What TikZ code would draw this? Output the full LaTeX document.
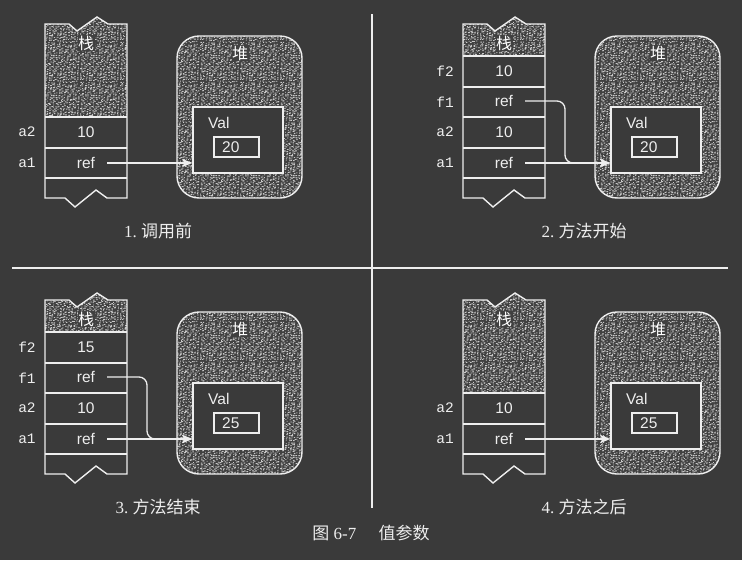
\documentclass[tikz,border=0pt]{standalone}
\usepackage{fontspec}
\setmainfont{Liberation Serif}
\newfontfamily\cjk{Noto Sans CJK SC}
\newfontfamily\hv{Liberation Sans}
\newfontfamily\mono{Liberation Mono}
\usetikzlibrary{arrows.meta,patterns}
\definecolor{bg}{HTML}{3A3A3A}
\definecolor{ink}{HTML}{EEEEEE}
\definecolor{speckbg}{HTML}{404040}
\definecolor{speck}{HTML}{C8C8C8}
\pgfmathsetseed{913}
\pgfdeclarepatternformonly{specks}{\pgfpoint{0pt}{0pt}}{\pgfpoint{40pt}{40pt}}{\pgfpoint{40pt}{40pt}}{%
  \foreach \i in {1,...,330}{%
    \pgfmathsetmacro\pw{0.8+1.2*rnd}%
    \pgfmathsetmacro\ph{0.7+0.4*rnd}%
    \pgfmathsetmacro\px{mod(\i*0.7548776662+0.5,1)*40-0.5*\pw+rnd*1.4-0.7}%
    \pgfmathsetmacro\py{mod(\i*0.5698402910+0.5,1)*40-0.5*\ph+rnd*1.4-0.7}%
    \pgfpathrectangle{\pgfpoint{\px pt}{\py pt}}{\pgfpoint{\pw pt}{\ph pt}}%
    \pgfusepath{fill}%
  }%
}
\tikzset{
  sline/.style={draw=ink, line width=1.4pt},
  cell/.style={font=\hv\fontsize{15.5}{18}\selectfont, text=ink, inner sep=0pt},
  refcell/.style={cell, minimum width=42pt},
  lbl/.style={font=\mono\fontsize{14.5}{16}\selectfont, text=ink, inner sep=0pt},
  arr/.style={draw=ink, line width=1.3pt, -{Stealth[length=10pt,width=8pt,inset=2pt]}},
  valbox/.style={draw=ink, line width=1.4pt, fill=bg, minimum width=90pt, minimum height=66pt, inner sep=0pt},
  numbox/.style={draw=ink, line width=1.4pt, minimum width=45pt, minimum height=20pt, inner sep=0pt},
  captxt/.style={font=\fontsize{17}{20}\selectfont, text=ink, inner sep=0pt},
  zh/.style={font=\cjk\fontsize{16}{18}\selectfont, text=white, fill=speckbg, inner sep=0.5pt},
  speckled/.style={fill=speckbg, postaction={pattern=specks, pattern color=speck}},
}
\newcommand\stackpart[2]{% #1 prefix, #2 shaded bottom
  \path[speckled] (45,24) -- (69,24) -- (77,31) -- (97,17) -- (108,24) -- (127,24) -- (127,#2) -- (45,#2) -- cycle;
  \draw[sline] (45,24) -- (69,24) -- (77,31) -- (97,17) -- (108,24) -- (127,24) -- (127,198)
     -- (107,198) -- (96,190) -- (75,207) -- (65,198) -- (45,198) -- cycle;
  \node[zh] (#1-stk) at (86,43) {栈};
}
\newcommand\heappart[2]{% #1 prefix, #2 value
  \path[speckled, rounded corners=22pt] (177,36) rectangle (302,198);
  \draw[sline, rounded corners=22pt] (177,36) rectangle (302,198);
  \node[zh] (#1-heap) at (240,53) {堆};
  \node[valbox] (#1-val) at (238,140) {};
  \node[cell, anchor=west] (#1-vallbl) at (208,123) {Val};
  \node[numbox] (#1-numbox) at (236.5,147) {};
  \node[cell, anchor=west] (#1-num) at (222,147) {#2};
}
\begin{document}
\begin{tikzpicture}[x=1pt, y=-1pt]
\useasboundingbox (0,0) rectangle (742,560);
\fill[bg] (0,0) rectangle (742,560);

% separators
\draw[sline, line width=1.5pt] (12,268) -- (728,268);
\draw[sline, line width=1.5pt] (372,14) -- (372,508);

% ---------- panel 1 ----------
\begin{scope}
  \stackpart{p1}{117}
  \draw[sline] (45,117) -- (127,117) (45,148) -- (127,148) (45,178) -- (127,178);
  \node[lbl] (p1-a2l) at (27,132) {a2};
  \node[lbl] (p1-a1l) at (27,163) {a1};
  \node[cell] (p1-a2) at (86,132) {10};
  \node[refcell] (p1-a1) at (86,163) {ref};
  \heappart{p1}{20}
  \draw[arr] (p1-a1.east) -- (p1-a1.east -| p1-val.west);
  \node[captxt] (p1-cap) at (158,231) {1.\ {\cjk 调用前}};
\end{scope}

% ---------- panel 2 ----------
\begin{scope}[shift={(418,0)}]
  \stackpart{p2}{56}
  \draw[sline] (45,56) -- (127,56) (45,87) -- (127,87) (45,117) -- (127,117)
              (45,148) -- (127,148) (45,178) -- (127,178);
  \node[lbl] (p2-f2l) at (27,71) {f2};
  \node[lbl] (p2-f1l) at (27,102) {f1};
  \node[lbl] (p2-a2l) at (27,132) {a2};
  \node[lbl] (p2-a1l) at (27,163) {a1};
  \node[cell] (p2-f2) at (86,71) {10};
  \node[refcell] (p2-f1) at (86,101) {ref};
  \node[cell] (p2-a2) at (86,132) {10};
  \node[refcell] (p2-a1) at (86,163) {ref};
  \heappart{p2}{20}
  \coordinate (p2-bend) at (147,163);
  \draw[arr, rounded corners=8pt] (p2-f1.east) -| (p2-bend) -- (p2-a1.east -| p2-val.west);
  \draw[arr] (p2-a1.east) -- (p2-a1.east -| p2-val.west);
  \node[captxt] (p2-cap) at (166,231) {2.\ {\cjk 方法开始}};
\end{scope}

% ---------- panel 3 ----------
\begin{scope}[shift={(0,276)}]
  \stackpart{p3}{56}
  \draw[sline] (45,56) -- (127,56) (45,87) -- (127,87) (45,117) -- (127,117)
              (45,148) -- (127,148) (45,178) -- (127,178);
  \node[lbl] (p3-f2l) at (27,71) {f2};
  \node[lbl] (p3-f1l) at (27,102) {f1};
  \node[lbl] (p3-a2l) at (27,132) {a2};
  \node[lbl] (p3-a1l) at (27,163) {a1};
  \node[cell] (p3-f2) at (86,71) {15};
  \node[refcell] (p3-f1) at (86,101) {ref};
  \node[cell] (p3-a2) at (86,132) {10};
  \node[refcell] (p3-a1) at (86,163) {ref};
  \heappart{p3}{25}
  \coordinate (p3-bend) at (147,163);
  \draw[arr, rounded corners=8pt] (p3-f1.east) -| (p3-bend) -- (p3-a1.east -| p3-val.west);
  \draw[arr] (p3-a1.east) -- (p3-a1.east -| p3-val.west);
  \node[captxt] (p3-cap) at (158,231) {3.\ {\cjk 方法结束}};
\end{scope}

% ---------- panel 4 ----------
\begin{scope}[shift={(418,276)}]
  \stackpart{p4}{117}
  \draw[sline] (45,117) -- (127,117) (45,148) -- (127,148) (45,178) -- (127,178);
  \node[lbl] (p4-a2l) at (27,132) {a2};
  \node[lbl] (p4-a1l) at (27,163) {a1};
  \node[cell] (p4-a2) at (86,132) {10};
  \node[refcell] (p4-a1) at (86,163) {ref};
  \heappart{p4}{25}
  \draw[arr] (p4-a1.east) -- (p4-a1.east -| p4-val.west);
  \node[captxt] (p4-cap) at (166,231) {4.\ {\cjk 方法之后}};
\end{scope}

% figure caption
\node[captxt] (figcap) at (371,533) {{\cjk 图}~6-7\hspace{1.3em}{\cjk 值参数}};
\end{tikzpicture}
\end{document}
